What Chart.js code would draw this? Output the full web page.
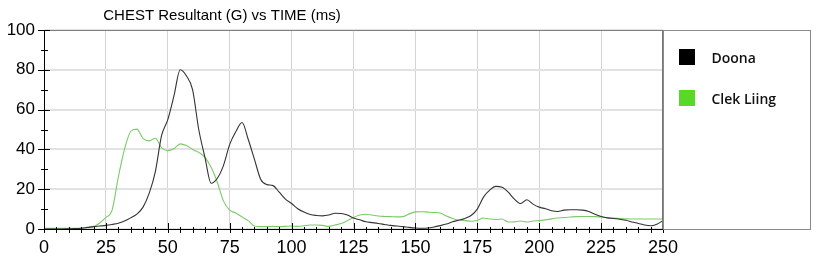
<!DOCTYPE html>
<html><head><meta charset="utf-8">
<script src="https://cdn.jsdelivr.net/npm/chart.js@4.4.1/dist/chart.umd.min.js"></script>
<style>html,body{margin:0;padding:0;background:#fff;}#wrap{width:830px;height:269px;}</style>
</head><body><div id="wrap"><canvas id="c" width="830" height="269"></canvas></div>
<script>
const chartTitle = 'CHEST Resultant (G) vs TIME (ms)';
const seriesNames = ['Doona', 'Clek Liing'];
const timeMs = [0,2.5,5,7.5,10,12.5,15,17.5,20,22.5,25,27.5,30,32.5,35,37.5,40,42.5,45,47.5,
  50,52.5,55,57.5,60,62.5,65,67.5,70,72.5,75,77.5,80,82.5,85,87.5,90,92.5,95,97.5,
  100,102.5,105,107.5,110,112.5,115,117.5,120,122.5,125,127.5,130,132.5,135,137.5,140,142.5,145,147.5,
  150,152.5,155,157.5,160,162.5,165,167.5,170,172.5,175,177.5,180,182.5,185,187.5,190,192.5,195,197.5,
  200,202.5,205,207.5,210,212.5,215,217.5,220,222.5,225,227.5,230,232.5,235,237.5,240,242.5,245,247.5,250];
const doona = [0,0,0,0,0.1,0.2,0.4,0.8,1.2,1.5,
  1.8,2.3,2.9,4.0,5.6,7.5,11,18,29,47,
  55,67,80,77,70,50,36,23,25.5,32,
  42.5,49,53.5,45,35,25,22.3,21.8,18.5,15,
  12.8,10.2,8.5,7.3,6.8,6.6,7.0,7.9,7.8,7.0,
  5.5,4.6,3.6,3.2,2.8,2.3,1.8,1.5,1.2,0.8,
  0.5,0.4,0.5,1.0,1.7,2.5,3.6,4.4,5.3,6.8,
  10,16,19.5,21.4,21,18.5,15,12.8,14.7,12.5,
  11,10.2,9.2,8.8,9.5,9.7,9.7,9.5,8.8,7.4,
  6.3,5.6,5.3,4.9,4.4,3.5,2.8,2.0,1.6,2.4,
  4.2];
const clekLiing = [0.3,0.3,0.3,0.3,0.3,0.3,0.3,0.6,1.2,3,
  5.8,9.5,26,40,49,50.2,45.5,44.3,45.6,40.8,
  39.4,40.3,42.8,42,40,38.5,36,31,23.5,14,
  9.5,8,6,4.2,1.5,1.2,1.2,1.3,1.2,1.3,
  1.5,1.3,1.6,2,2,1.8,1.3,2,2.8,4.2,
  5.8,7,7.4,7,6.5,6.3,6.2,6.1,6.2,7.6,
  8.6,8.7,8.5,8.3,8,6.5,5.3,4.5,4.2,3.9,
  4.3,5.5,5,4.8,5,3.5,3.6,4,3.5,4,
  4.2,4.6,5.1,5.5,5.8,6,6.2,6.3,6.3,6.2,
  6,5.8,5.5,5.3,5.1,5,5,5,5,5,
  5];
const xRange = [0, 250];
const yRange = [0, 100];
const xMajorStep = 25, xMinorStep = 5;
const yMajorStep = 20, yMinorStep = 10;
const lineColors = ['#333333', '#7acb68'];
const legendColors = ['#000000', '#58d928'];

const frame = {
  id: 'frame',
  afterDraw(chart) {
    const {ctx, chartArea: a, scales: {x, y}} = chart;
    ctx.save();
    const line = (x1, y1, x2, y2) => { ctx.beginPath(); ctx.moveTo(x1, y1); ctx.lineTo(x2, y2); ctx.stroke(); };
    // top border
    ctx.strokeStyle = '#808080'; ctx.lineWidth = 1;
    line(a.left, Math.round(a.top) + 0.5, a.right, Math.round(a.top) + 0.5);
    // right border
    ctx.strokeStyle = '#777777'; ctx.lineWidth = 2;
    line(a.right, a.top, a.right, a.bottom);
    // x ticks
    ctx.strokeStyle = '#000'; ctx.lineWidth = 1;
    for (let v = xRange[0]; v <= xRange[1]; v += xMinorStep) {
      const px = Math.round(x.getPixelForValue(v)) + 0.5;
      const major = v % xMajorStep === 0;
      line(px, a.bottom - (major ? 6 : 2), px, a.bottom + 4);
    }
    // y ticks
    for (let v = yRange[0]; v <= yRange[1]; v += yMinorStep) {
      const py = Math.round(y.getPixelForValue(v)) + 0.5;
      const major = v % yMajorStep === 0;
      line(a.left - (major ? 6 : 3), py, a.left + (major ? 6 : 4), py);
    }
    // legend box
    ctx.strokeStyle = '#8a8a8a'; ctx.lineWidth = 1;
    ctx.strokeRect(Math.round(a.right) + 0.5, Math.round(a.top) + 0.5, 147, Math.round(a.bottom - a.top));
    ctx.font = '600 14px "Open Sans"';
    ctx.textBaseline = 'alphabetic';
    ctx.textAlign = 'left';
    chart.data.datasets.forEach((ds, i) => {
      const top = a.top + 19 + i * 41;
      ctx.fillStyle = ds.legendColor;
      ctx.fillRect(a.right + 16, top, 16, 16);
      ctx.fillStyle = '#111';
      ctx.fillText(ds.label, a.right + 48.5, top + 13.5);
    });
    // title
    ctx.font = '15px "Liberation Sans", Arial, sans-serif';
    ctx.fillStyle = '#000';
    ctx.textAlign = 'center';
    ctx.textBaseline = 'middle';
    ctx.fillText(chartTitle, 222, 16);
    ctx.restore();
  }
};

const makeSeries = (vals) => timeMs.map((t, i) => ({x: t, y: vals[i]}));

new Chart(document.getElementById('c'), {
  type: 'line',
  data: {
    datasets: [
      {label: seriesNames[0], data: makeSeries(doona), borderColor: lineColors[0], legendColor: legendColors[0]},
      {label: seriesNames[1], data: makeSeries(clekLiing), borderColor: lineColors[1], legendColor: legendColors[1]}
    ]
  },
  options: {
    responsive: false,
    animation: false,
    devicePixelRatio: 1,
    layout: {padding: {top: 30, right: 167, left: 0, bottom: 0}},
    elements: {
      line: {borderWidth: 1.1, cubicInterpolationMode: 'monotone', fill: false},
      point: {radius: 0}
    },
    plugins: {legend: {display: false}, title: {display: false}, tooltip: {enabled: false}},
    scales: {
      x: {
        type: 'linear', min: xRange[0], max: xRange[1],
        afterFit: s => { s.height = 40; },
        ticks: {stepSize: xMajorStep, padding: 8, color: '#000', font: {family: '"Liberation Sans", Arial', size: 18}, maxRotation: 0},
        grid: {color: '#d4d4d4', lineWidth: 1, drawTicks: false},
        border: {color: '#000', width: 1}
      },
      y: {
        min: yRange[0], max: yRange[1],
        afterFit: s => { s.width = 44; },
        ticks: {stepSize: yMajorStep, padding: 9, color: '#000', font: {family: '"Liberation Sans", Arial', size: 17}},
        grid: {color: '#e2e2e2', lineWidth: 2, drawTicks: false},
        border: {color: '#000', width: 1}
      }
    }
  },
  plugins: [frame]
});
</script></body></html>
